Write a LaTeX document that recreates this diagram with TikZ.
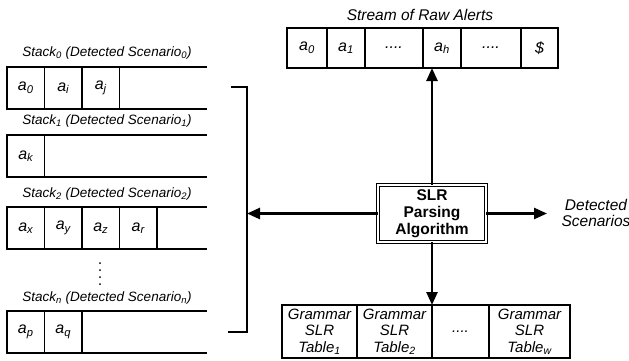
\documentclass[tikz,border=0pt]{standalone}
\usepackage{fontspec}
\setmainfont{Liberation Sans}
\usetikzlibrary{arrows.meta}
\begin{document}
\begin{tikzpicture}[x=1pt,y=-1pt,
  box/.style={draw, line width=1.4pt},
  cell/.style={draw, line width=1.4pt, inner sep=0pt, outer sep=0pt, minimum height=42pt, minimum width=37.5pt, font=\fontsize{16}{17}\selectfont\itshape},
  scell/.style={cell, minimum height=40pt},
  tcell/.style={cell, minimum height=53pt, align=center, font=\fontsize{15}{16.5}\selectfont\itshape},
  lbl/.style={inner sep=0pt, font=\fontsize{13.5}{16}\selectfont\itshape},
  arr/.style={line width=2.5pt, -{Triangle[length=13pt,width=11pt]}},
]
\useasboundingbox (0,0) rectangle (629,360);

% ---- Stack 0
\node[lbl] (l0) at (107,53) {Stack\textsubscript{0} (Detected Scenario\textsubscript{0})};
\node[cell] (s0a) at (25.75,88) {a\textsubscript{0}};
\node[cell] (s0b) at (63.25,88) {a\textsubscript{i}};
\node[cell] (s0c) at (100.75,88) {a\textsubscript{j}};
\coordinate (s0t) at (207,67);
\coordinate (s0u) at (207,109);
\draw[box] (s0c.north east) -- (s0t);
\draw[box] (s0c.south east) -- (s0u);

% ---- Stack 1
\node[lbl] (l1) at (107,121) {Stack\textsubscript{1} (Detected Scenario\textsubscript{1})};
\node[cell] (s1a) at (25.75,156) {a\textsubscript{k}};
\coordinate (s1t) at (207,135);
\coordinate (s1u) at (207,177);
\draw[box] (s1a.north east) -- (s1t);
\draw[box] (s1a.south east) -- (s1u);

% ---- Stack 2
\node[lbl] (l2) at (107,194) {Stack\textsubscript{2} (Detected Scenario\textsubscript{2})};
\node[cell] (s2a) at (25.75,228) {a\textsubscript{x}};
\node[cell] (s2b) at (63.25,228) {a\textsubscript{y}};
\node[cell] (s2c) at (100.75,228) {a\textsubscript{z}};
\node[cell] (s2d) at (138.25,228) {a\textsubscript{r}};
\coordinate (s2t) at (207,207);
\coordinate (s2u) at (207,249);
\draw[box] (s2d.north east) -- (s2t);
\draw[box] (s2d.south east) -- (s2u);

% ---- vertical dots
\foreach \yy in {263,270,277,284} \fill (100,\yy) circle (1pt);

% ---- Stack n
\node[lbl] (ln) at (107,298) {Stack\textsubscript{n} (Detected Scenario\textsubscript{n})};
\node[cell] (sna) at (25.75,332) {a\textsubscript{p}};
\node[cell] (snb) at (63.25,332) {a\textsubscript{q}};
\coordinate (snt) at (207,311);
\coordinate (snu) at (207,353);
\draw[box] (snb.north east) -- (snt);
\draw[box] (snb.south east) -- (snu);

% ---- bracket
\coordinate (b1) at (231,87);
\coordinate (b2) at (247,87);
\coordinate (b3) at (247,332);
\coordinate (b4) at (228,332);
\draw[box] (b1) -- (b2) -- (b3) -- (b4);
\coordinate (brk) at (247,213.5);

% ---- stream of raw alerts
\node[inner sep=0pt, font=\fontsize{15.5}{17}\selectfont\itshape] (title) at (420,15) {Stream of Raw Alerts};
\node[scell, minimum width=40pt] (st1) at (307,48) {a\textsubscript{0}};
\node[scell, minimum width=38pt] (st2) at (346,48) {a\textsubscript{1}};
\node[scell, minimum width=58pt] (st3) at (394,48) {....};
\node[scell, minimum width=38pt] (st4) at (442,48) {a\textsubscript{h}};
\node[scell, minimum width=60pt] (st5) at (491,48) {....};
\node[scell, minimum width=37pt] (st6) at (539.5,48) {\$};

% ---- SLR box
\node[draw, line width=0.9pt, double, double distance=1.6pt, minimum width=108pt, minimum height=57pt,
      align=center, inner sep=1pt, font=\fontsize{15.5}{17}\selectfont\bfseries] (slr) at (432,213.5)
      {SLR\\Parsing\\Algorithm};

% ---- detected scenarios
\node[inner sep=0pt, align=center, font=\fontsize{15.5}{16}\selectfont\itshape] (ds) at (596,213) {Detected\\Scenarios};
\coordinate (dstip) at (547,213.5);

% ---- tables
\node[tcell, minimum width=75pt] (t1) at (319.5,331.5) {Grammar\\SLR\\Table\textsubscript{1}};
\node[tcell, minimum width=75pt] (t2) at (394.5,331.5) {Grammar\\SLR\\Table\textsubscript{2}};
\node[tcell, minimum width=57pt] (t3) at (460.5,331.5) {....};
\node[tcell, minimum width=81pt] (t4) at (529.5,331.5) {Grammar\\SLR\\Table\textsubscript{w}};

% ---- arrows
\draw[arr] (slr.north) -- (slr.north |- st4.south);
\draw[arr] (slr.south) -- (slr.south |- t2.north);
\draw[arr] (slr.west) -- (slr.west -| brk);
\draw[arr] (slr.east) -- (dstip);
\end{tikzpicture}
\end{document}
